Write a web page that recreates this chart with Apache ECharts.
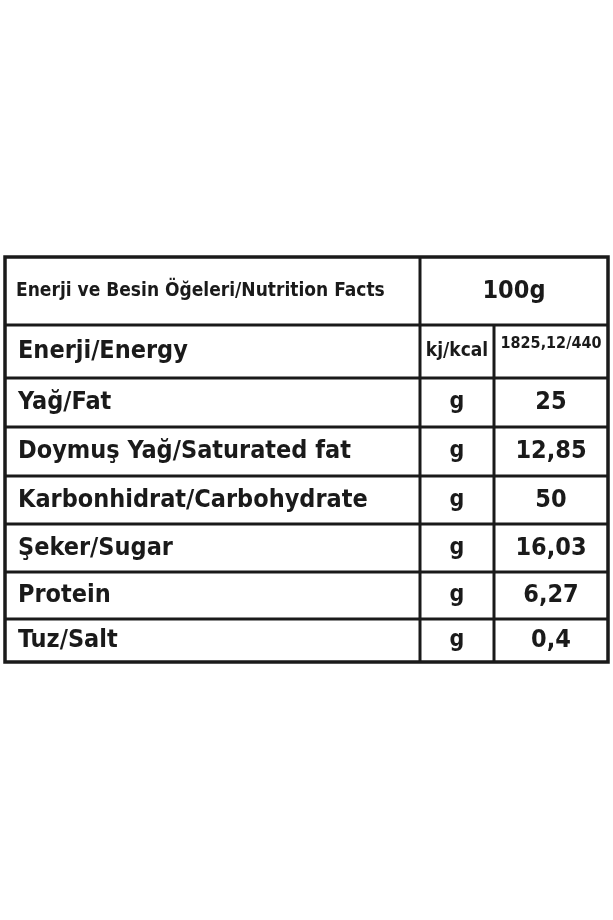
<!DOCTYPE html>
<html><head><meta charset="utf-8">
<script src="https://cdn.jsdelivr.net/npm/echarts@6/dist/echarts.min.js"></script>
<style>html,body{margin:0;background:#fff}#c{width:613px;height:920px}</style>
</head><body><div id="c"></div>
<script>
const headerLabel = "Enerji ve Besin Öğeleri/Nutrition Facts";
const headerValue = "100g";
const nutrients = ["Enerji/Energy","Yağ/Fat","Doymuş Yağ/Saturated fat","Karbonhidrat/Carbohydrate","Şeker/Sugar","Protein","Tuz/Salt"];
const units = ["kj/kcal","g","g","g","g","g","g"];
const values = ["1825,12/440","25","12,85","50","16,03","6,27","0,4"];

const rowLines = [257,325,378,427,476,524,572,619,662];
const colX = [5,420,494,608];
const font = "'Liberation Sans Narrow','DejaVu Sans Condensed','Liberation Sans',sans-serif";
const g = [];
const line = (x1,y1,x2,y2,w)=>g.push({type:'line',shape:{x1,y1,x2,y2},style:{stroke:'#1a1a1a',lineWidth:w}});
const txt = (x,y,t,size,align)=>g.push({type:'text',x,y,style:{text:t,font:`bold ${size}px ${font}`,fill:'#1a1a1a',align:align||'left',verticalAlign:'middle'}});
g.push({type:'rect',shape:{x:colX[0],y:rowLines[0],width:colX[3]-colX[0],height:rowLines[8]-rowLines[0]},style:{fill:'none',stroke:'#1a1a1a',lineWidth:3.5}});
for(let i=1;i<rowLines.length-1;i++) line(colX[0],rowLines[i],colX[3],rowLines[i],3);
line(colX[1],rowLines[0],colX[1],rowLines[8],3);
line(colX[2],rowLines[1],colX[2],rowLines[8],3);
txt(16,(rowLines[0]+rowLines[1])/2,headerLabel,19);
txt((colX[1]+colX[3])/2,(rowLines[0]+rowLines[1])/2,headerValue,25,'center');
nutrients.forEach((n,i)=>{
  const cy=(rowLines[i+1]+rowLines[i+2])/2;
  txt(18,cy,n,25);
  txt((colX[1]+colX[2])/2,cy,units[i],i===0?19:23,'center');
  txt((colX[2]+colX[3])/2,cy-(i===0?8:0),values[i],i===0?16:25,'center');
});
const chart = echarts.init(document.getElementById('c'),null,{renderer:'canvas'});
chart.setOption({animation:false,graphic:g});
</script></body></html>
